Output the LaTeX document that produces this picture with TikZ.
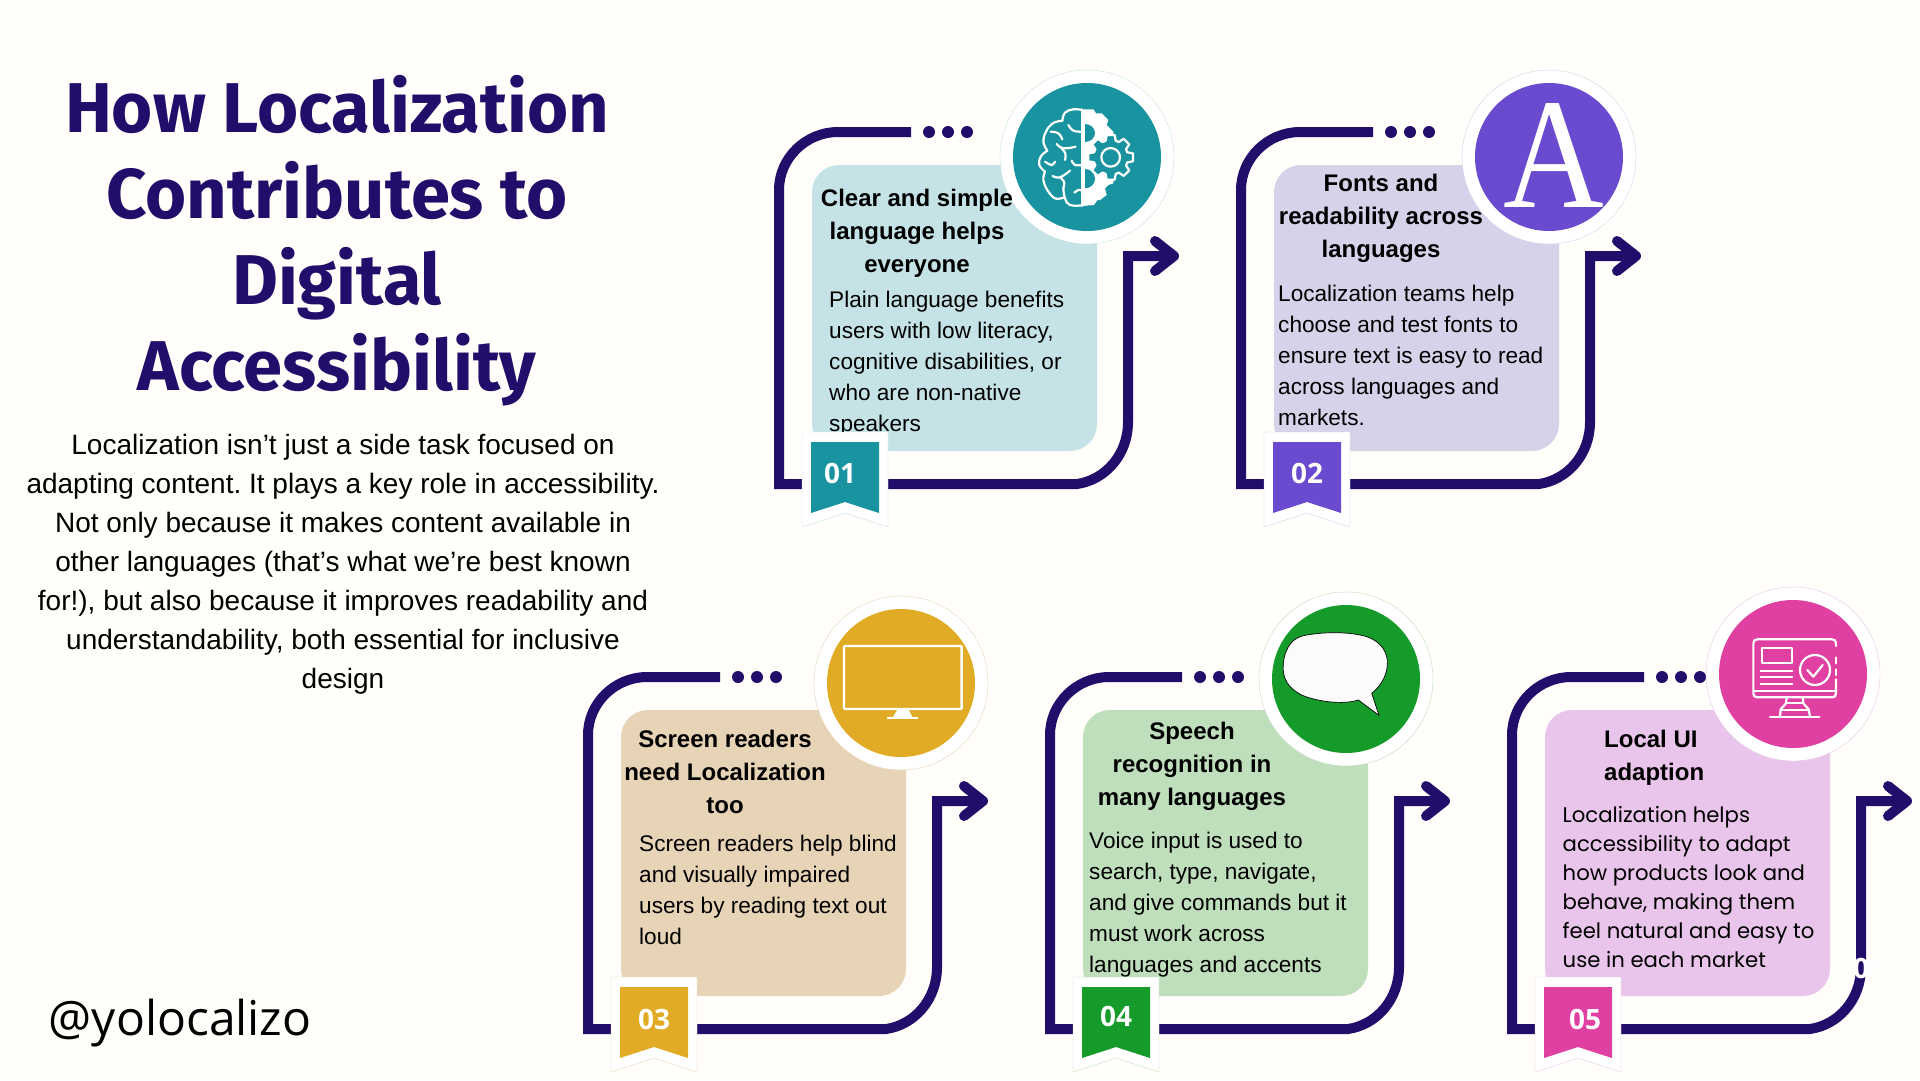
\documentclass[tikz,border=0pt]{standalone}
\usepackage{fontspec}
\setmainfont{Liberation Sans}
\newfontfamily\popfont{Poppins}
\newfontfamily\titlefont{Fira Sans}
\newfontfamily\numfont{Open Sans}
\newfontfamily\seriffont{Liberation Serif}
\newfontfamily\handlefont{Open Sans}
\usetikzlibrary{calc}
\definecolor{paper}{HTML}{FFFEFA}
\definecolor{navy}{HTML}{220E6A}
\definecolor{toneA}{HTML}{18939F}
\definecolor{tintA}{HTML}{C5E3E6}
\definecolor{toneB}{HTML}{6A4BD0}
\definecolor{tintB}{HTML}{D6D2E9}
\definecolor{toneC}{HTML}{E1AB26}
\definecolor{tintC}{HTML}{E7D3B6}
\definecolor{toneD}{HTML}{159B2A}
\definecolor{tintD}{HTML}{BFDEBB}
\definecolor{toneE}{HTML}{E040A2}
\definecolor{tintE}{HTML}{EAC5EB}
\tikzset{
 trail/.style={navy, line width=10pt},
 cardbox/.style={rectangle, rounded corners=27pt, minimum width=285pt, minimum height=286pt, inner sep=0},
 halo/.style={circle, fill=white, minimum size=174pt, inner sep=0, line width=.4pt},
 disc/.style={circle, minimum size=148pt, inner sep=0},
 tagno/.style={white, inner sep=0, font=\numfont\bfseries\fontsize{28}{28}\selectfont},
 heading/.style={anchor=base, align=center, inner sep=0, font=\bfseries\fontsize{24}{33}\selectfont},
 bodytext/.style={anchor=base west, align=left, inner sep=0, font=\fontsize{22.6}{31}\selectfont},
 iconline/.style={white, line width=2.2pt, line cap=round, line join=round},
}
\frenchspacing
\begin{document}
\begin{tikzpicture}[x=1pt, y=-1pt]
\fill[paper] (0,0) rectangle (1920,1080);
\useasboundingbox (0,0) rectangle (1920,1080);
\node[anchor=base, align=center, inner sep=0, navy, font=\titlefont\bfseries\fontsize{70.5}{86}\selectfont] (title) at (337,390.5) {How Localization\\Contributes to\\Digital\\Accessibility};
\node[anchor=base, align=center, inner sep=0, font=\fontsize{28}{39}\selectfont] (intro) at (343,688) {Localization isn’t just a side task focused on\\adapting content. It plays a key role in accessibility.\\Not only because it makes content available in\\other languages (that’s what we’re best known\\for!), but also because it improves readability and\\understandability, both essential for inclusive\\design};
\node[anchor=base west, inner sep=0, font=\handlefont\fontsize{48}{48}\selectfont] (handle) at (48.5,1035) {@yolocalizo};
\foreach \no/\dx/\dy/\tint in {01/0/0/tintA, 02/462/0/tintB, 03/-191/545/tintC, 04/271/545/tintD, 05/733/545/tintE} {
 \begin{scope}[shift={(\dx,\dy)}]
 \draw[trail] (911,132)--(838,132) .. controls (806,132) and (779,158) .. (779,190)--(779,484)--(1077,484) .. controls (1105,480) and (1128,455) .. (1128,422)--(1128,256)--(1172,256);
 \draw[trail, line cap=round, line join=round] (1155,241)--(1174,256)--(1155,271);
 \foreach \x in {929,948,967} {
  \fill[navy] (\x,132) circle (6);
 }
 \node[cardbox, fill=\tint] (card\no) at (954.5,308) {};
 \end{scope}
}
\node[bodytext] (bodyA) at (829,431) {Plain language benefits\\users with low literacy,\\cognitive disabilities, or\\who are non-native\\speakers};
\node[bodytext] (bodyB) at (1278,425) {Localization teams help\\choose and test fonts to\\ensure text is easy to read\\across languages and\\markets.};
\node[bodytext] (bodyC) at (639,944) {Screen readers help blind\\and visually impaired\\users by reading text out\\loud};
\node[bodytext] (bodyD) at (1089,972) {Voice input is used to\\search, type, navigate,\\and give commands but it\\must work across\\languages and accents};
\node[bodytext, font=\popfont\fontsize{21.2}{29}\selectfont] (bodyE) at (1562.5,967) {Localization helps\\accessibility to adapt\\how products look and\\behave, making them\\feel natural and easy to\\use in each market};
\foreach \no/\dx/\dy/\tone/\tint/\cx/\cy/\lx/\ly in {01/0/0/toneA/tintA/1087/157/840/473, 02/462/0/toneB/tintB/1087/157/845/473, 03/-191/545/toneC/tintC/1092/138/845/474, 04/271/545/toneD/tintD/1075/134/845/471, 05/733/545/toneE/tintE/1060/129/852/474} {
 \begin{scope}[shift={(\dx,\dy)}]
 \node[halo, draw=\tint] (halo\no) at (\cx,\cy) {};
 \node[disc, fill=\tone] (disc\no) at (\cx,\cy) {};
 \draw[fill=white, draw=\tint, line width=.4pt] (802,432)--(888,432)--(888,527)--(845,513)--(802,527)--cycle;
 \fill[\tone] (811,442)--(879,442)--(879,513)--(845,502)--(811,513)--cycle;
 \node[tagno] (tag\no) at (\lx,\ly) {\no};
 \end{scope}
}
% brain and gears
\begin{scope}[shift={(1010,100)}, scale=1/3]
\fill[white] (217,28)--(250,28)--(258,40)--(275,40)--(295,60)--(290,75)--(310,95)--(310,250)--(295,255)--(285,265)--(290,285)--(270,300)--(262,300)--(252,315)--(217,318)--cycle;
\fill[toneA] (225,72) arc (-90:90:30 and 27)--cycle;
\fill[toneA] (225,207) arc (-90:90:30 and 29)--cycle;
\coordinate (hub) at (302,172);
\fill[toneA] (hub) circle (52);
\foreach \a in {0,45,...,315} {
 \draw[iconline, fill=toneA] ($(hub)+(\a-17:52)$)--($(hub)+(\a-10:68)$)--($(hub)+(\a+10:68)$)--($(hub)+(\a+17:52)$);
 \draw[iconline] ($(hub)+(\a+17:52)$) arc (\a+17:\a+28:52);
}
\draw[iconline] (hub) circle (28);
\draw[iconline] (217,28)--(217,318);
\draw[iconline] plot[smooth, tension=.7] coordinates {(217,30) (190,28) (165,38) (157,62)};
\draw[iconline] plot[smooth, tension=.7] coordinates {(157,62) (128,70) (108,95) (100,125) (112,152)};
\draw[iconline] plot[smooth, tension=.7] coordinates {(112,152) (92,170) (88,195) (105,215)};
\draw[iconline] plot[smooth, tension=.7] coordinates {(105,215) (100,240) (112,270) (135,295) (160,293)};
\draw[iconline] plot[smooth, tension=.7] coordinates {(160,265) (165,295) (180,315) (217,316)};
\draw[iconline] plot[smooth, tension=.7] coordinates {(175,75) (190,92) (217,95)};
\draw[iconline] plot[smooth, tension=.7] coordinates {(122,95) (145,100) (157,118)};
\draw[iconline] plot[smooth, tension=.7] coordinates {(140,132) (160,145) (197,140)};
\draw[iconline] plot[smooth, tension=.7] coordinates {(150,140) (166,160) (165,180)};
\draw[iconline] plot[smooth, tension=.7] coordinates {(185,182) (195,195) (217,195)};
\draw[iconline] plot[smooth, tension=.7] coordinates {(105,185) (125,195) (135,185)};
\draw[iconline] plot[smooth, tension=.7] coordinates {(128,228) (150,232) (180,212)};
\draw[iconline] plot[smooth, tension=.7] coordinates {(150,232) (162,245) (160,265)};
\draw[iconline] plot[smooth, tension=.7] coordinates {(193,278) (205,270) (217,272)};
\end{scope}
\node[anchor=base, inner sep=0, white, font=\seriffont\fontsize{150}{150}\selectfont] (letter) at (1554,207) {\scalebox{.93}[1.05]{A}};
% monitor
\begin{scope}[shift={(570,590)}, scale=1/3]
\draw[white, line width=2.4pt, rounded corners=1pt] (822,168) rectangle (1175,357);
\fill[white] (982,360)--(1016,360)--(1028,382)--(968,382)--cycle;
\draw[white, line width=2.2pt] (952,385)--(1045,385);
\end{scope}
% speech bubble
\begin{scope}[shift={(1030,590)}, scale=1/3]
\draw[fill=white!97!gray, draw=black, line width=.7pt] (985,330) .. controls (940,345) and (860,335) .. (815,315) .. controls (775,295) and (755,265) .. (760,220) .. controls (765,170) and (790,140) .. (830,135) .. controls (890,125) and (960,125) .. (1010,140) .. controls (1055,155) and (1075,190) .. (1072,225) .. controls (1070,260) and (1050,290) .. (1025,310)--(1047,376)--cycle;
\end{scope}
% screen with check mark
\begin{scope}[shift={(1730,620)}, scale=1/3]
\draw[iconline] (318,70) .. controls (318,62) and (314,58) .. (306,58)--(82,58) .. controls (74,58) and (70,62) .. (70,70)--(70,220) .. controls (70,228) and (74,232) .. (82,232)--(306,232) .. controls (314,232) and (318,228) .. (318,220)--(318,178);
\draw[iconline] (318,70)--(318,78) (318,112)--(318,130) (318,148)--(318,165);
\draw[iconline] (70,213)--(318,213);
\draw[iconline] (95,85) rectangle (187,128);
\foreach \y in {152,172,192} {
 \draw[iconline] (92,\y)--(187,\y);
}
\draw[iconline] (255,150) circle (45);
\draw[iconline] (232,150)--(250,170)--(278,135);
\draw[iconline] (170,232)--(168,250)--(152,268)--(150,290);
\draw[iconline] (218,232)--(220,250)--(236,268)--(240,290);
\draw[iconline] (168,250)--(220,250) (152,270)--(236,270);
\draw[iconline] (120,290)--(268,290);
\end{scope}
\node[heading] (headA) at (917,272) {Clear and simple\\language helps\\everyone};
\node[heading] (headB) at (1381,257) {Fonts and\\readability across\\languages};
\node[heading] (headC) at (725,813) {Screen readers\\need Localization\\too};
\node[heading] (headD) at (1192,805) {Speech\\recognition in\\many languages};
\node[heading, anchor=base west, align=left] (headE) at (1604,780) {Local UI\\adaption};
\node[tagno] (stray) at (1869,968) {05};
\end{tikzpicture}
\end{document}
